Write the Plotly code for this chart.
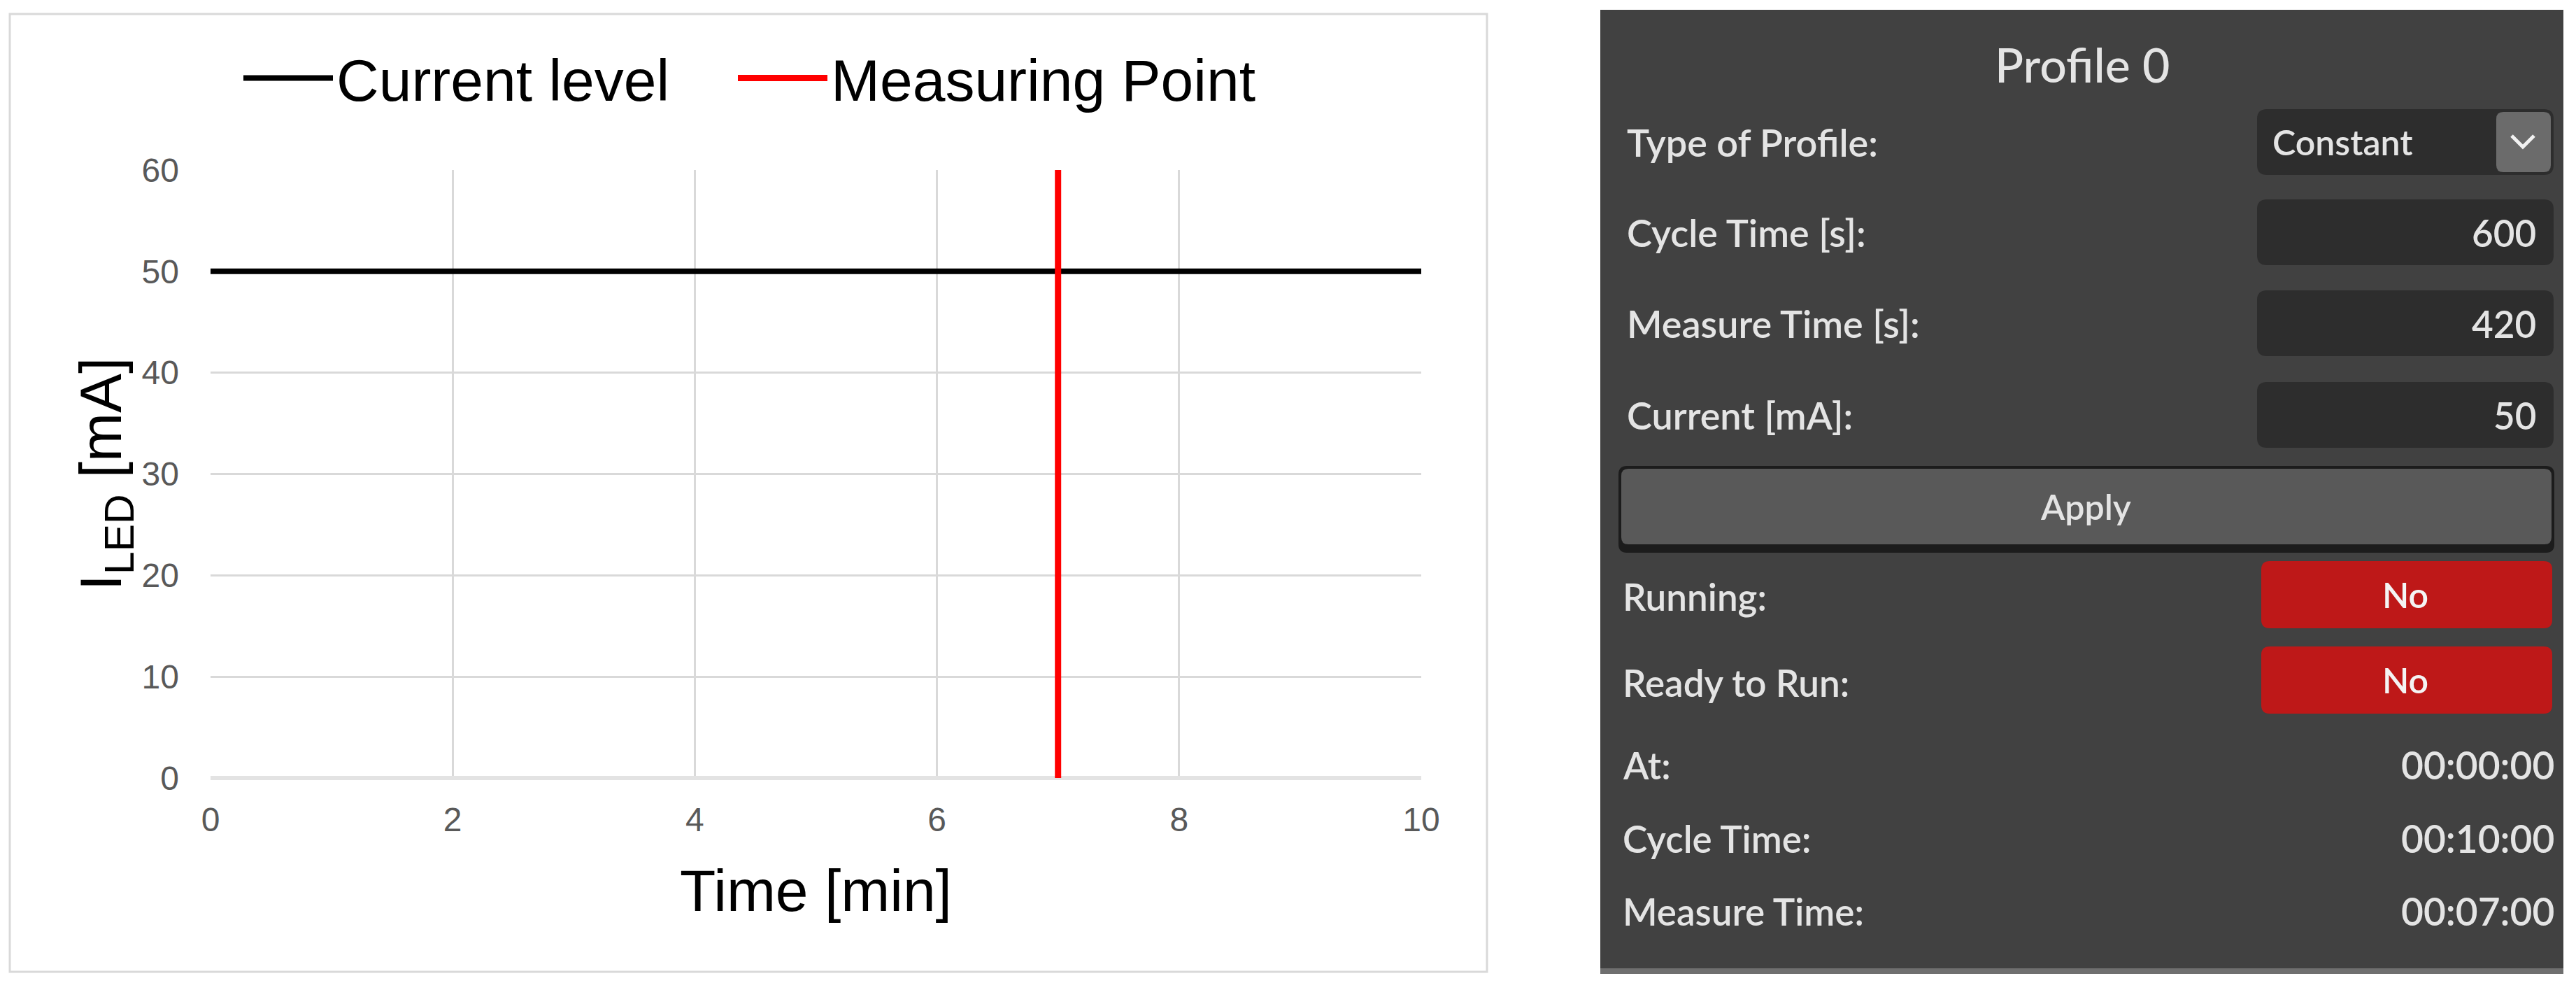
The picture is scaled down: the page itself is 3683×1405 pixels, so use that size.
import plotly.graph_objects as go

# ---------------- data ----------------
time_min = [0, 10]
current_mA = [50, 50]
measure_time_min = [7, 7]
measure_span_mA = [0, 60]
x_ticks = [0, 2, 4, 6, 8, 10]
y_ticks = [0, 10, 20, 30, 40, 50, 60]
series_names = ["Current level", "Measuring Point"]

panel_title = "Profile 0"
field_labels = ["Type of Profile:", "Cycle Time [s]:", "Measure Time [s]:", "Current [mA]:"]
field_values = ["Constant", "600", "420", "50"]
button_label = "Apply"
status_labels = ["Running:", "Ready to Run:"]
status_values = ["No", "No"]
timer_labels = ["At:", "Cycle Time:", "Measure Time:"]
timer_values = ["00:00:00", "00:10:00", "00:07:00"]

# ---------------- layout helpers ----------------
W, H = 3683, 1405
OFF = 8  # page body margin of the html page


def px(x):
    return (x - OFF) / W


def py(y):
    return 1 - (y - OFF) / H


def rrect_path(x0, y0, x1, y1, r):
    X0, X1 = px(x0), px(x1)
    Y0, Y1 = py(y0), py(y1)
    rx, ry = r / W, r / H
    return (f"M {X0+rx} {Y0} L {X1-rx} {Y0} Q {X1} {Y0} {X1} {Y0-ry} "
            f"L {X1} {Y1+ry} Q {X1} {Y1} {X1-rx} {Y1} L {X0+rx} {Y1} "
            f"Q {X0} {Y1} {X0} {Y1+ry} L {X0} {Y0-ry} Q {X0} {Y0} {X0+rx} {Y0} Z")


fig = go.Figure()
fig.add_trace(go.Scatter(x=time_min, y=current_mA, mode="lines", name=series_names[0],
                         line=dict(color="#000000", width=8), legend="legend"))
fig.add_trace(go.Scatter(x=measure_time_min, y=measure_span_mA, mode="lines", name=series_names[1],
                         line=dict(color="#ff0000", width=9), legend="legend2"))

TITLE_FONT = "Liberation Sans, Arial, sans-serif"
TICK_FONT = "Liberation Sans Narrow, Arial Narrow, Liberation Sans, sans-serif"
UI_FONT = "Lato, Open Sans, sans-serif"

shapes = []
annotations = []

# chart frame
shapes.append(dict(type="rect", xref="paper", yref="paper", x0=px(14), x1=px(2126), y0=py(1389), y1=py(20),
                   line=dict(color="#d9d9d9", width=3), fillcolor="rgba(0,0,0,0)", layer="below"))

# ---------------- GUI panel ----------------
PANEL_BG = "#414141"
BOX_BG = "#2d2d2d"
TXT = "#e4e4e4"
UI_W = 600
shapes.append(dict(type="rect", xref="paper", yref="paper", x0=px(2288), x1=px(3665), y0=py(1390), y1=py(14),
                   line=dict(width=0), fillcolor=PANEL_BG, layer="below"))
shapes.append(dict(type="rect", xref="paper", yref="paper", x0=px(2288), x1=px(3665), y0=py(1392), y1=py(1384),
                   line=dict(width=0), fillcolor="#6f6f6f", layer="below"))

annotations.append(dict(text=panel_title, xref="paper", yref="paper", x=px(2977), y=py(92),
                        xanchor="center", yanchor="middle", showarrow=False,
                        font=dict(family=UI_FONT, size=68, color=TXT, weight=500)))

row_centers = [203, 332, 462, 593]
for lab, val, cy in zip(field_labels, field_values, row_centers):
    shapes.append(dict(type="path", xref="paper", yref="paper", path=rrect_path(3227, cy - 47, 3651, cy + 47, 14),
                       line=dict(width=0), fillcolor=BOX_BG, layer="below"))
    annotations.append(dict(text=lab, xref="paper", yref="paper", x=px(2324), y=py(cy),
                            xanchor="left", yanchor="middle", showarrow=False,
                            font=dict(family=UI_FONT, size=54, color=TXT, weight=UI_W)))
    if val == field_values[0]:
        annotations.append(dict(text=val, xref="paper", yref="paper", x=px(3247), y=py(cy),
                                xanchor="left", yanchor="middle", showarrow=False,
                                font=dict(family=UI_FONT, size=50, color=TXT, weight=UI_W)))
    else:
        annotations.append(dict(text=val, xref="paper", yref="paper", x=px(3628), y=py(cy),
                                xanchor="right", yanchor="middle", showarrow=False,
                                font=dict(family=UI_FONT, size=53, color=TXT, weight=UI_W)))

# dropdown arrow button
shapes.append(dict(type="path", xref="paper", yref="paper", path=rrect_path(3569, 160, 3647, 246, 10),
                   line=dict(width=0), fillcolor="#6b6b6b", layer="below"))
shapes.append(dict(type="path", xref="paper", yref="paper",
                   path=f"M {px(3591)} {py(194)} L {px(3607)} {py(210)} L {px(3623)} {py(194)}",
                   line=dict(color="#f2f2f2", width=5), layer="above"))

# apply button
shapes.append(dict(type="path", xref="paper", yref="paper", path=rrect_path(2314, 666, 3652, 790, 12),
                   line=dict(width=0), fillcolor="#1c1c1c", layer="below"))
shapes.append(dict(type="path", xref="paper", yref="paper", path=rrect_path(2318, 670, 3648, 778, 10),
                   line=dict(width=0), fillcolor="#595959", layer="below"))
annotations.append(dict(text=button_label, xref="paper", yref="paper", x=px(2982), y=py(724),
                        xanchor="center", yanchor="middle", showarrow=False,
                        font=dict(family=UI_FONT, size=50, color=TXT, weight=UI_W)))

status_centers = [850, 972]
for lab, val, cy in zip(status_labels, status_values, status_centers):
    shapes.append(dict(type="path", xref="paper", yref="paper", path=rrect_path(3233, cy - 48, 3649, cy + 48, 12),
                       line=dict(width=0), fillcolor="#be1818", layer="below"))
    annotations.append(dict(text=lab, xref="paper", yref="paper", x=px(2318), y=py(cy + 3),
                            xanchor="left", yanchor="middle", showarrow=False,
                            font=dict(family=UI_FONT, size=53, color=TXT, weight=UI_W)))
    annotations.append(dict(text=val, xref="paper", yref="paper", x=px(3439), y=py(cy),
                            xanchor="center", yanchor="middle", showarrow=False,
                            font=dict(family=UI_FONT, size=50, color="#f4f4f4", weight=UI_W)))

timer_centers = [1093, 1198, 1302]
for lab, val, cy in zip(timer_labels, timer_values, timer_centers):
    annotations.append(dict(text=lab, xref="paper", yref="paper", x=px(2318), y=py(cy),
                            xanchor="left", yanchor="middle", showarrow=False,
                            font=dict(family=UI_FONT, size=53, color=TXT, weight=UI_W)))
    annotations.append(dict(text=val, xref="paper", yref="paper", x=px(3654), y=py(cy),
                            xanchor="right", yanchor="middle", showarrow=False,
                            font=dict(family=UI_FONT, size=55, color=TXT, weight=UI_W)))

legend_style = dict(orientation="h", xanchor="left", yanchor="middle",
                    font=dict(family=TITLE_FONT, size=84, color="#000000"),
                    bgcolor="rgba(0,0,0,0)", itemwidth=128)

fig.update_layout(
    width=W, height=H,
    margin=dict(l=0, r=0, t=0, b=0, autoexpand=False),
    paper_bgcolor="#ffffff", plot_bgcolor="#ffffff",
    showlegend=True,
    legend=dict(x=px(343), y=py(112), **legend_style),
    legend2=dict(x=px(1050), y=py(112), **legend_style),
    xaxis=dict(domain=[px(301), px(2032)], range=[0, 10], tickvals=x_ticks,
               showgrid=True, gridcolor="#d9d9d9", gridwidth=3, zeroline=False, showline=False,
               ticks="", ticklabelstandoff=27,
               tickfont=dict(family=TICK_FONT, size=48, color="#595959"),
               title=dict(text="Time [min]", standoff=46,
                          font=dict(family=TITLE_FONT, size=84, color="#000000"))),
    yaxis=dict(domain=[py(1112), py(243)], range=[0, 60], tickvals=y_ticks,
               showgrid=True, gridcolor="#d9d9d9", gridwidth=3, zeroline=True,
               zerolinecolor="#e3e3e3", zerolinewidth=6, showline=False,
               ticks="", ticklabelstandoff=44,
               tickfont=dict(family=TICK_FONT, size=48, color="#595959"),
               title=dict(text="I<sub>LED</sub> [mA]", standoff=0,
                          font=dict(family=TITLE_FONT, size=84, color="#000000"))),
    shapes=shapes,
    annotations=annotations,
)

fig.write_html("out.html")
